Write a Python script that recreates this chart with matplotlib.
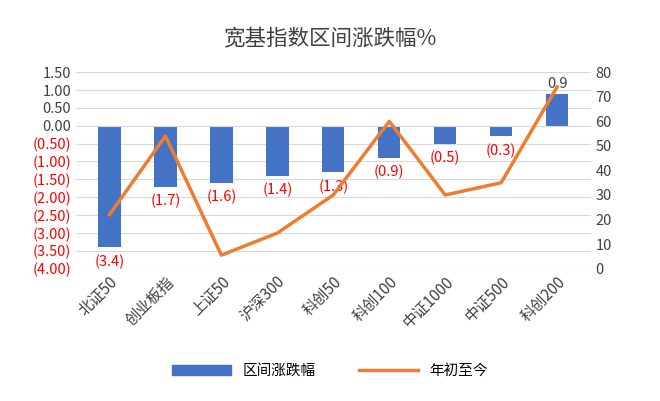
import matplotlib
matplotlib.use("Agg")
import matplotlib.pyplot as plt
from matplotlib.ticker import FuncFormatter

plt.rcParams['font.family'] = ['Noto Sans CJK SC', 'DejaVu Sans']

categories = ['北证50', '创业板指', '上证50', '沪深300', '科创50', '科创100', '中证1000', '中证500', '科创200']
range_change = [-3.4, -1.7, -1.6, -1.4, -1.3, -0.9, -0.5, -0.3, 0.9]
ytd = [22, 54, 5.5, 14.5, 30, 60, 30, 35, 74]

fig = plt.figure(figsize=(6.6, 4.01), dpi=100)
ax = fig.add_axes([0.115, 0.33, 0.78, 0.49])
ax2 = ax.twinx()
x = list(range(len(categories)))
blue = '#4472C4'; orange = '#ED7D31'; red = '#FF0000'
ax.bar(x, range_change, width=0.4, color=blue, zorder=2)
ax2.plot(x, ytd, color=orange, lw=2.5, zorder=3)
ax.set_ylim(-4, 1.5)
ax2.set_ylim(0, 80)
ax.set_yticks([i * 0.5 for i in range(-8, 4)])
ax2.set_yticks(range(0, 81, 10))
def fmt(v, p):
    return f'({abs(v):.2f})' if v < 0 else f'{v:.2f}'
ax.yaxis.set_major_formatter(FuncFormatter(fmt))
for t, v in zip(ax.get_yticklabels(), ax.get_yticks()):
    t.set_color(red if v < 0 else '#404040')
ax.tick_params(axis='y', labelsize=10.5, length=0)
ax2.tick_params(axis='y', labelsize=10.5, length=0, colors='#404040')
ax.set_xticks(x)
ax.set_xticklabels(categories, rotation=45, ha='right', rotation_mode='anchor', fontsize=11, color='#404040')
ax.tick_params(axis='x', length=0)
ax.set_xlim(-0.6, len(x) - 0.4)
ax.grid(axis='y', color='#D9D9D9', lw=0.8, zorder=0)
for a in (ax, ax2):
    for s in a.spines.values():
        s.set_visible(False)
ax.axhline(0, color='#D9D9D9', lw=0.8)
for xi, v in zip(x, range_change):
    if v < 0:
        ax.text(xi, v - 0.2, f'({abs(v):.1f})', ha='center', va='top', color=red, fontsize=10.5, zorder=5)
    else:
        ax.text(xi, v + 0.08, f'{v:.1f}', ha='center', va='bottom', color='#404040', fontsize=10.5)
fig.text(0.5, 0.89, '宽基指数区间涨跌幅%', ha='center', fontsize=15.5, color='#404040')
from matplotlib.patches import Patch
from matplotlib.lines import Line2D
fig.legend([Patch(color=blue), Line2D([], [], color=orange, lw=2.5)], ['区间涨跌幅', '年初至今'],
           loc='center', bbox_to_anchor=(0.5, 0.075), ncol=2, frameon=False, fontsize=10.5,
           handlelength=4, columnspacing=3)
fig.savefig('out.png', dpi=100)
